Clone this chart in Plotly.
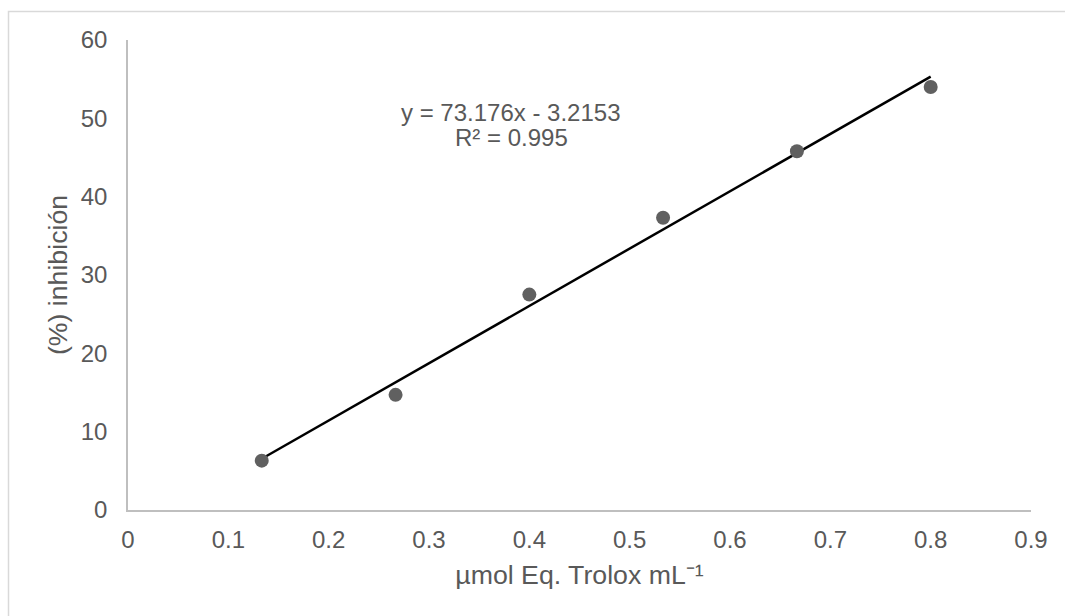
import numpy as np
import plotly.graph_objects as go

# Data
x_vals = [0.1333, 0.2667, 0.4, 0.5333, 0.6667, 0.8]
y_vals = [6.3, 14.7, 27.5, 37.3, 45.8, 54.0]
slope = 73.176
intercept = -3.2153
r2 = 0.995
x_ticks = [0, 0.1, 0.2, 0.3, 0.4, 0.5, 0.6, 0.7, 0.8, 0.9]
x_tick_labels = ["0", "0.1", "0.2", "0.3", "0.4", "0.5", "0.6", "0.7", "0.8", "0.9"]
y_ticks = [0, 10, 20, 30, 40, 50, 60]
y_tick_labels = ["0", "10", "20", "30", "40", "50", "60"]

FONT = "Liberation Sans, Arial, sans-serif"
TXT = "#595959"

W, H = 1065, 616
L, R, T, B = 128, 34, 40, 106
pw, ph = W - L - R, H - T - B

def px_x(p):
    return (p - L) / pw

def px_y(p):
    return (H - B - p) / ph

line_x = np.array([min(x_vals), max(x_vals)])
line_y = slope * line_x + intercept

fig = go.Figure()
fig.add_trace(go.Scatter(
    x=line_x, y=line_y, mode="lines",
    line=dict(color="#000000", width=2.5),
    showlegend=False, hoverinfo="skip"))
fig.add_trace(go.Scatter(
    x=x_vals, y=y_vals, mode="markers",
    marker=dict(color="#606060", size=14, line=dict(width=0)),
    showlegend=False))

fig.update_layout(
    width=W, height=H,
    margin=dict(l=L, r=R, t=T, b=B, pad=0),
    paper_bgcolor="white", plot_bgcolor="white",
    font=dict(family=FONT, color=TXT, size=24),
    xaxis=dict(
        range=[0, 0.9], tickvals=x_ticks, ticktext=x_tick_labels,
        showgrid=False, zeroline=False, showline=True,
        linecolor="#bfbfbf", linewidth=1.5, ticks="",
        ticklabelstandoff=7,
        tickfont=dict(size=24, color=TXT, family=FONT),
        title=dict(text="µmol Eq. Trolox mL⁻¹", font=dict(size=26.7, color=TXT, family=FONT), standoff=14),
    ),
    yaxis=dict(
        range=[0, 60], tickvals=y_ticks, ticktext=y_tick_labels,
        showgrid=False, zeroline=False, showline=True,
        linecolor="#bfbfbf", linewidth=1.5, ticks="",
        ticklabelstandoff=14,
        tickfont=dict(size=24, color=TXT, family=FONT),
        title=dict(text="(%) inhibición", font=dict(size=26.7, color=TXT, family=FONT), standoff=5),
    ),
)

eq_text = f"y = {slope}x - {abs(intercept)}"
r2_text = f"R² = {r2}"
fig.add_annotation(x=px_x(511), y=px_y(113), xref="paper", yref="paper",
                   text=eq_text, showarrow=False,
                   font=dict(size=24, color=TXT, family=FONT),
                   xanchor="center", yanchor="middle")
fig.add_annotation(x=px_x(511), y=px_y(137), xref="paper", yref="paper",
                   text=r2_text, showarrow=False,
                   font=dict(size=24, color=TXT, family=FONT),
                   xanchor="center", yanchor="middle")

# chart border
fig.add_shape(type="rect", xref="paper", yref="paper",
              x0=px_x(8.5), x1=px_x(1075), y0=px_y(626), y1=px_y(11.5),
              line=dict(color="#d9d9d9", width=1.5), fillcolor="rgba(0,0,0,0)", layer="below")

fig.write_html("out.html")
